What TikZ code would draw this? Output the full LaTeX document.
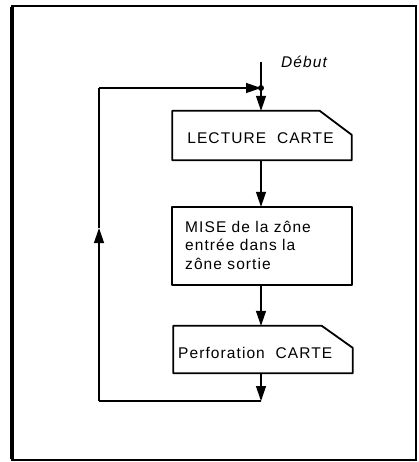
\documentclass[tikz,border=0pt]{standalone}
\usepackage{fontspec}
\setmainfont{Liberation Sans}[LetterSpace=7]
\usetikzlibrary{arrows.meta}
\begin{document}
\begin{tikzpicture}[x=1pt,y=-1pt,
  every node/.style={font=\fontsize{15.5}{18.5}\selectfont},
  boxnode/.style={minimum width=179pt,inner sep=0pt},
  outline/.style={line width=1.8pt,line join=round},
  flow/.style={line width=1.3pt},
  tip/.style={-{Triangle[length=15pt,width=10pt]}}]
  % page and frame
  \useasboundingbox (0,0) rectangle (418,462);
  \draw[line width=1.8pt] (12,460) -- (12,6) -- (416,6) -- (416,460) -- cycle;
  \draw[line width=4pt] (12,459) -- (12,7);

  % boxes
  \node[boxnode,minimum height=49pt] (lect) at (262,135.5) {};
  \node[boxnode,minimum height=78pt] (mise) at (262,246) {};
  \node[boxnode,minimum height=47pt] (perf) at (263,349.5) {};

  \draw[outline] (lect.south west) -- (lect.north west) -- ([xshift=-32pt]lect.north east)
    -- ([yshift=-24pt]lect.north east) -- (lect.south east) -- cycle;
  \draw[outline] (mise.south west) rectangle (mise.north east);
  \draw[outline] (perf.south west) -- (perf.north west) -- ([xshift=-31pt]perf.north east)
    -- ([yshift=-22pt]perf.north east) -- (perf.south east) -- cycle;

  % box texts
  \node[inner sep=0pt] (lecttxt) at (260.5,138) {LECTURE\ \ CARTE};
  \node[inner sep=0pt,anchor=west,align=left] (misetxt) at (185,245)
    {MISE de la zône\\entrée dans la\\zône sortie};
  \node[inner sep=0pt,anchor=west] (perftxt) at (178,353) {Perforation\ \ CARTE};

  % entry point and junction
  \coordinate (start) at (261,62);
  \node[font=\fontsize{15.5}{18}\selectfont\itshape,inner sep=0pt] (debut) at (304,62) {Début};
  \coordinate (join) at (261,88);
  \coordinate (loopend) at (261,401);
  \coordinate (bl) at (99,401);
  \coordinate (upmid) at (99,228);
  \coordinate (tl) at (99,88);

  % main flow
  \draw[flow] (start) -- (join);
  \draw[flow,tip] (join) -- (join |- lect.north);
  \draw[flow,tip] (lect.south -| join) -- (mise.north -| join);
  \draw[flow,tip] (mise.south -| join) -- (perf.north -| join);
  \draw[flow,tip] (perf.south -| join) -- (loopend);

  % return loop
  \draw[flow] (loopend) -- (bl);
  \draw[flow,tip] (bl) -- (upmid);
  \draw[flow] (upmid) -- (tl);
  \draw[flow,tip] (tl) -- (join);
  \fill (join) circle (3pt);
\end{tikzpicture}
\end{document}
